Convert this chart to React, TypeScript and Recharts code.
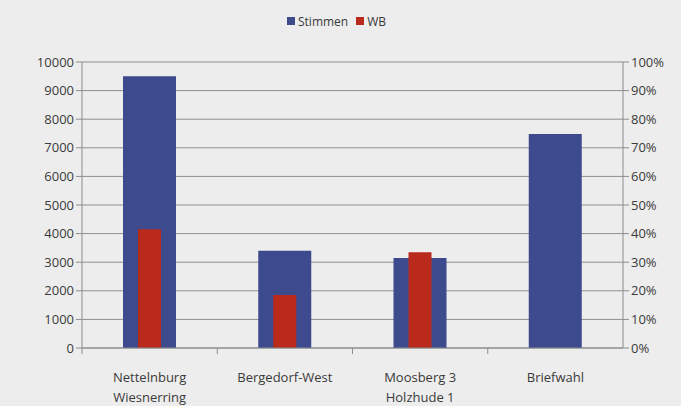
import React from 'react'
import {
  ComposedChart, Bar, XAxis, YAxis, CartesianGrid,
} from 'recharts'

// ── Data ──────────────────────────────────────────────────────────────────────

const CATEGORIES = ['Nettelnburg\nWiesnerring', 'Bergedorf-West', 'Moosberg 3\nHolzhude 1', 'Briefwahl']
const STIMMEN = [9500, 3400, 3150, 7480]
const WB = [41.5, 18.5, 33.5, 0]
const LEFT_TICKS = [0, 1000, 2000, 3000, 4000, 5000, 6000, 7000, 8000, 9000, 10000]
const RIGHT_TICKS = [0, 10, 20, 30, 40, 50, 60, 70, 80, 90, 100]

const data = CATEGORIES.map((name, i) => ({ name, stimmen: STIMMEN[i], wb: WB[i] }))

// ── Style ─────────────────────────────────────────────────────────────────────

const BLUE = '#3d4a8e'
const RED = '#b92a1c'
const TEXT = '#3a3a3a'
const FONT = '"Open Sans", "Liberation Sans", sans-serif'
const TICK = { fill: TEXT, fontSize: 13, fontFamily: FONT } as const
const LINE = { stroke: '#8c8c8c' } as const

function CategoryTick(props: any) {
  const { x, y, payload } = props
  const lines = String(payload.value).split('\n')
  const half = payload.offset ?? 0
  return (
    <g>
      <line x1={x - half} x2={x - half} y1={y - 8} y2={y - 2} stroke="#8c8c8c" />
      <text x={x} y={y + 26} textAnchor="middle" fill={TEXT} fontSize={13} fontFamily={FONT}>
        {lines.map((l, i) => (
          <tspan key={i} x={x} dy={i === 0 ? 0 : 20}>{l}</tspan>
        ))}
      </text>
    </g>
  )
}

// legend drawn as plain HTML so it does not push the plot area down
function LegendBox() {
  const item = (c: string, label: string) => (
    <span style={{ display: 'inline-flex', alignItems: 'center', marginRight: 8 }}>
      <span style={{ width: 8, height: 8, background: c, display: 'inline-block', marginRight: 3 }} />
      {label}
    </span>
  )
  return (
    <div style={{ position: 'absolute', top: 12, left: 287, fontFamily: FONT, fontSize: 12, color: TEXT }}>
      {item(BLUE, 'Stimmen')}
      {item(RED, 'WB')}
    </div>
  )
}

export default function App() {
  return (
    <div style={{ position: 'absolute', left: 0, top: 0, width: 681, height: 406, background: '#ededed' }}>
      <ComposedChart width={681} height={406} data={data} margin={{ top: 62, right: 0, left: 0, bottom: 0 }}>
        <CartesianGrid vertical={false} stroke="#8f8f8f" yAxisId="left" />
        <XAxis xAxisId="a" dataKey="name" height={58} tick={<CategoryTick />} tickLine={false} axisLine={LINE} interval={0} />
        <XAxis xAxisId="b" dataKey="name" hide />
        <YAxis
          yAxisId="left"
          width={82}
          domain={[0, 10000]}
          ticks={LEFT_TICKS}
          tick={TICK}
          axisLine={LINE}
          tickLine={LINE}
          tickSize={6}
          interval={0}
        />
        <YAxis
          yAxisId="right"
          orientation="right"
          width={58}
          domain={[0, 100]}
          ticks={RIGHT_TICKS}
          tickFormatter={(v) => `${v}%`}
          tick={TICK}
          axisLine={LINE}
          tickLine={LINE}
          tickSize={6}
          interval={0}
        />
        <Bar xAxisId="a" yAxisId="left" dataKey="stimmen" name="Stimmen" fill={BLUE} barSize={53} isAnimationActive={false} />
        <Bar xAxisId="b" yAxisId="right" dataKey="wb" name="WB" fill={RED} barSize={23} isAnimationActive={false} />
      </ComposedChart>
      <LegendBox />
    </div>
  )
}
